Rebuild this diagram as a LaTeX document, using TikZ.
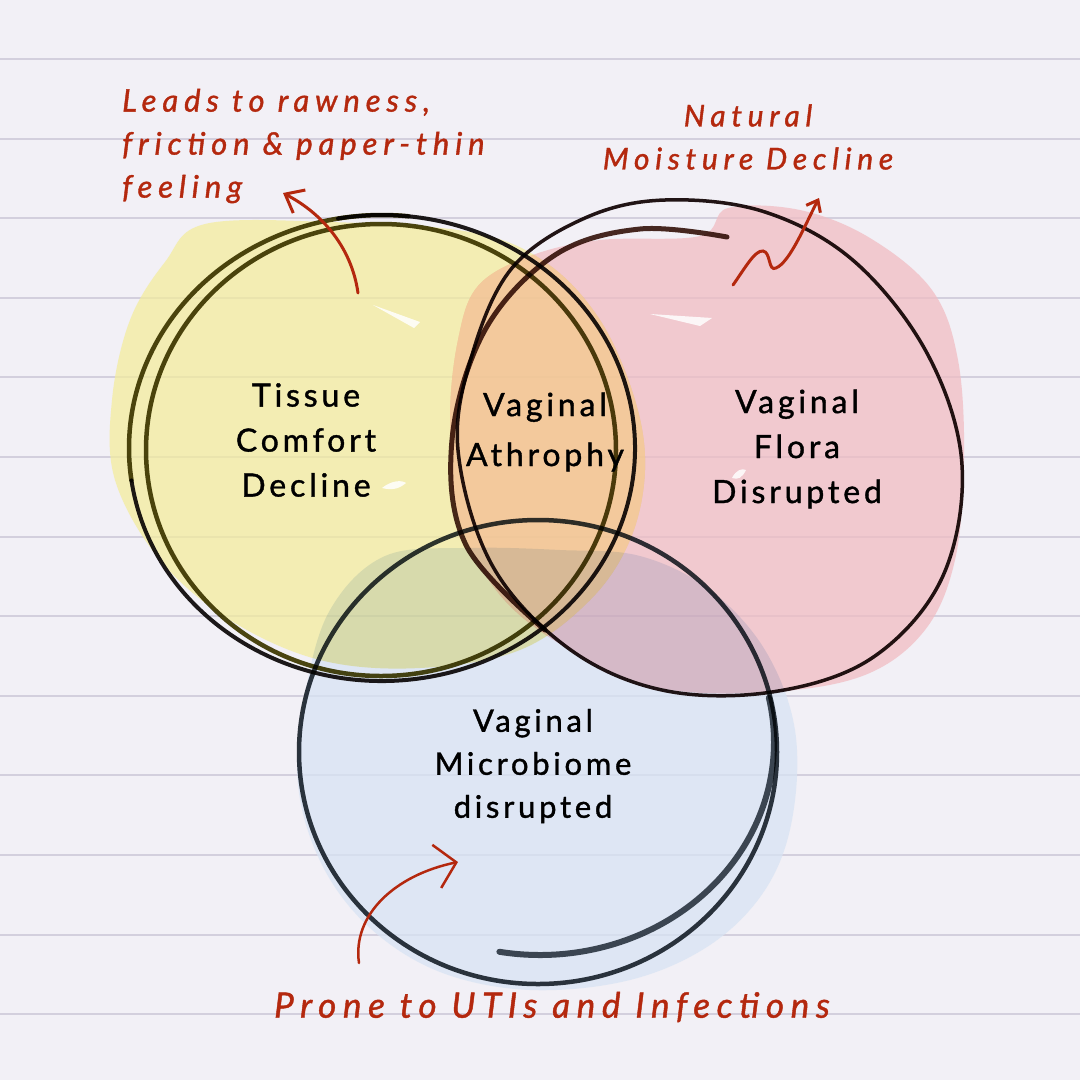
\documentclass[tikz,border=0pt]{standalone}
\usepackage{fontspec}
\setmainfont{Lato}
\newfontfamily\handfont[LetterSpace=12, FakeBold=1.2]{Lato}
\newfontfamily\redfont[LetterSpace=19, FakeBold=1.2]{Lato}
\usetikzlibrary{arrows.meta}
\definecolor{paper}{HTML}{F2F0F6}
\definecolor{rulecol}{HTML}{D3CFDD}
\definecolor{yfill}{HTML}{F5EFA3}
\definecolor{pfill}{HTML}{F3C1C7}
\definecolor{bfill}{HTML}{DBE7F5}
\definecolor{ofix}{HTML}{F8CFA0}
\definecolor{olive}{HTML}{4E4912}
\definecolor{ink}{HTML}{1E1A1A}
\definecolor{pinkink}{HTML}{231616}
\definecolor{brownink}{HTML}{4A2A22}
\definecolor{slate}{HTML}{30383F}
\definecolor{slatetwo}{HTML}{444D55}
\definecolor{redink}{HTML}{B4280E}
\tikzset{
  ruleline/.style={rulecol, line width=2},
  blobbase/.style={fill=white, opacity=0.72},
  blob/.style={blend mode=multiply, opacity=0.8},
  ringstroke/.style={line width=4.5, line cap=round, blend mode=multiply},
  redarrow/.style={redink, line width=3, line cap=round},
  blacktext/.style={text=black, inner sep=0, align=center, font=\handfont\fontsize{32}{45}\selectfont},
  redtext/.style={text=redink, inner sep=0, font=\redfont\itshape\fontsize{31}{43}\selectfont},
  highlight/.style={fill=white, opacity=0.85}
}
\begin{document}
\begin{tikzpicture}[x=1pt,y=-1pt]
\fill[paper] (0,0) rectangle (1080,1080);
\useasboundingbox (0,0) rectangle (1080,1080);
\foreach \k in {0,...,12} \draw[ruleline] (0,{59+79.6*\k}) -- (1080,{59+79.6*\k});

% blob outlines
\def\yblob{plot[smooth cycle, tension=0.6] coordinates {(205,224) (330,222) (470,232) (545,262) (600,320) (635,400) (645,470) (630,540) (590,600) (520,650) (420,668) (320,660) (230,620) (160,560) (115,480) (112,400) (130,320) (165,262)}}
\def\pblob{plot[smooth cycle, tension=0.6] coordinates {(478,286) (530,256) (600,240) (700,236) (728,208) (800,210) (870,238) (932,290) (958,360) (964,460) (955,560) (925,630) (865,675) (770,692) (660,688) (570,650) (500,595) (458,515) (450,420) (458,340)}}
\def\bblob{plot[smooth cycle, tension=0.6] coordinates {(330,610) (385,556) (470,548) (560,550) (640,556) (710,590) (765,650) (795,730) (792,820) (765,890) (710,945) (630,980) (530,990) (440,972) (370,928) (322,865) (298,785) (305,695)}}
\fill[blobbase] \yblob \pblob \bblob;
% colour blobs
\fill[yfill, blob] \yblob;
\fill[pfill, blob] \pblob;
\begin{scope}
  \clip \yblob;
  \fill[ofix, opacity=0.7] \pblob;
\end{scope}
\fill[bfill, blob] \bblob;

% white sketch marks
\fill[highlight] (373,305) -- (420,322) -- (414,328) -- cycle;
\fill[highlight] (382,488) .. controls (392,480) and (402,480) .. (406,483) .. controls (398,490) and (390,490) .. cycle;
\fill[highlight] (650,314) -- (712,318) -- (700,326) -- cycle;
\fill[highlight] (732,478) .. controls (736,470) and (742,468) .. (746,470) .. controls (742,478) and (738,480) .. cycle;

% yellow ring
\draw[olive, ringstroke] (381,450) ellipse [x radius=235, y radius=226];
\draw[olive, ringstroke] ([shift={(382,448)}]276:253 and 233) arc[start angle=276, end angle=172, x radius=253, y radius=233];
\draw[ink, ringstroke, line width=4] ([shift={(382,448)}]172:253 and 233) arc[start angle=172, end angle=-100, x radius=253, y radius=233];

% pink ring
\draw[pinkink, ringstroke, line width=3.5] plot[smooth cycle, tension=0.6] coordinates {(458,450) (472,355) (512,268) (585,218) (665,200) (765,212) (855,262) (928,355) (962,465) (942,578) (872,658) (772,692) (662,690) (568,648) (492,565)};
\draw[brownink, ringstroke, line width=5] plot[smooth, tension=0.6] coordinates {(727,237) (640,229) (555,255) (485,330) (452,440) (466,545) (545,630)};

% blue ring
\draw[slate, ringstroke, line width=4.5] (538,752) ellipse [x radius=239, y radius=232];
\draw[slatetwo, ringstroke, line width=6] ([shift={(540,742)}]-12:234 and 213) arc[start angle=-12, end angle=100, x radius=234, y radius=213];

% labels
\node[blacktext] (tissue) at (306,440) {Tissue\\Comfort\\Decline};
\node[blacktext, font=\handfont\fontsize{32}{50}\selectfont] (athro) at (545,432) {Vaginal\\Athrophy};
\node[blacktext] (flora) at (797,449) {Vaginal\\Flora\\Disrupted};
\node[blacktext, font=\handfont\fontsize{31}{43}\selectfont] (micro) at (533,766) {Vaginal\\Microbiome\\disrupted};

\node[redtext, align=left, anchor=west] (leads) at (122,146) {Leads to rawness,\\friction \& paper-thin\\feeling};
\node[redtext, align=center, font=\redfont\itshape\fontsize{30}{43}\selectfont] (moist) at (748,137) {Natural\\Moisture Decline};
\node[redtext, font=\redfont\itshape\fontsize{35}{43}\selectfont] (prone) at (552,1007) {Prone to UTIs and Infections};

% arrows
\coordinate (a1s) at (358,293); \coordinate (a1t) at (283,193);
\draw[redarrow, -{Straight Barb[length=16pt, width=26pt]}] (a1s) .. controls (352,250) and (325,215) .. (a1t);
\coordinate (a2s) at (733,285); \coordinate (a2t) at (819,198);
\draw[redarrow, -{Straight Barb[length=10pt, width=16pt]}] (a2s) .. controls (745,268) and (755,250) .. (763,251) .. controls (771,252) and (768,272) .. (776,268) .. controls (790,262) and (805,225) .. (a2t);
\coordinate (a3s) at (359,963); \coordinate (a3t) at (458,862);
\draw[redarrow, line width=2.5, -{Straight Barb[length=20pt, width=44pt]}] (a3s) .. controls (352,915) and (395,875) .. (a3t);
\end{tikzpicture}
\end{document}
